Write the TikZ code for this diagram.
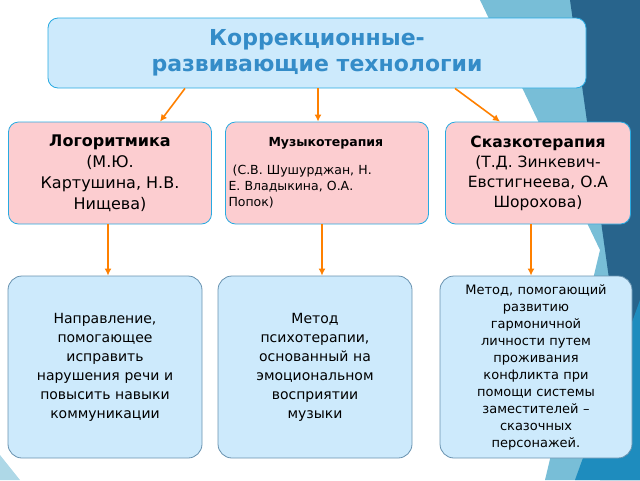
\documentclass[tikz,border=0pt]{standalone}
\usepackage{fontspec}
\usetikzlibrary{arrows.meta}
\setmainfont{DejaVu Sans}
\definecolor{titleblue}{RGB}{52,140,200}
\definecolor{boxblue}{RGB}{205,234,252}
\definecolor{boxpink}{RGB}{252,205,208}
\definecolor{edgeblue}{RGB}{40,170,225}
\definecolor{bgone}{RGB}{120,190,215}
\definecolor{bgtwo}{RGB}{40,100,140}
\definecolor{bgthree}{RGB}{30,140,190}
\begin{document}
\begin{tikzpicture}[x=1pt,y=-1pt,
	pink box/.style={draw=edgeblue, thick, fill=boxpink, rounded corners=10pt, align=center, inner sep=3pt},
	blue box/.style={draw=bgtwo!70, thick, fill=boxblue, rounded corners=14pt, align=center, inner sep=3pt},
	title box/.style={draw=edgeblue, thick, fill=boxblue, rounded corners=10pt, align=center},
	link/.style={draw=orange, line width=1.6pt, -{Latex[length=7pt,width=7pt]}}]
	\useasboundingbox (0,0) rectangle (640,480);
	% background shapes
	\fill[bgone] (480,0) -- (640,0) -- (640,480) -- (545,480) -- (600,250) -- cycle;
	\fill[bgtwo] (570,0) -- (640,0) -- (640,480) -- (600,480) -- (612,300) -- cycle;
	\fill[bgthree] (640,300) -- (640,480) -- (575,480) -- cycle;
	\fill[bgone!60] (0,455) -- (20,480) -- (0,480) -- cycle;
	
	\node[title box, minimum width=538, minimum height=70, font=\bfseries\fontsize{22}{26}\selectfont, text=titleblue] (Title) at (317,53) {Коррекционные-\\развивающие технологии};
	
	\node[pink box, minimum width=203, minimum height=102, font=\fontsize{16}{21}\selectfont] (Logo) at (110,173) {\textbf{Логоритмика}\\(М.Ю.\\Картушина, Н.В.\\Нищева)};
	\node[pink box, minimum width=203, minimum height=102, text width=197, align=left, font=\fontsize{12.5}{16}\selectfont] (Music) at (327,173) {\hspace*{40pt}\textbf{Музыкотерапия}\\[12pt]\ (С.В. Шушурджан, Н.\\Е. Владыкина, О.А.\\Попок)};
	\node[pink box, minimum width=185, minimum height=102, font=\fontsize{15.5}{20}\selectfont] (Tale) at (538,173) {\textbf{Сказкотерапия}\\(Т.Д. Зинкевич-\\Евстигнеева, О.А\\Шорохова)};
	
	\node[blue box, minimum width=194, minimum height=182, text width=180, font=\fontsize{14}{19}\selectfont] (LogoDesc) at (105,367) {Направление,\\помогающее\\исправить\\нарушения речи и\\повысить навыки\\коммуникации};
	\node[blue box, minimum width=194, minimum height=182, text width=150, font=\fontsize{14}{19}\selectfont] (MusicDesc) at (315,367) {Метод\\психотерапии,\\основанный на\\эмоциональном\\восприятии\\музыки\hspace*{40pt}};
	\node[blue box, minimum width=192, minimum height=182, text width=180, font=\fontsize{13}{17}\selectfont] (TaleDesc) at (536,367) {Метод, помогающий\\развитию\\гармоничной\\личности путем\\проживания\\конфликта при\\помощи системы\\заместителей –\\сказочных\\персонажей.};
	
	\draw[link] (Title.south -| 185,0) -- (Logo.north -| 160,0);
	\draw[link] (Title.south -| 318,0) -- (Music.north -| 318,0);
	\draw[link] (Title.south -| 455,0) -- (Tale.north -| 500,0);
	\draw[link] (Logo.south -| 108,0) -- (LogoDesc.north -| 108,0);
	\draw[link] (Music.south -| 322,0) -- (MusicDesc.north -| 322,0);
	\draw[link] (Tale.south -| 531,0) -- (TaleDesc.north -| 531,0);
\end{tikzpicture}
\end{document}
